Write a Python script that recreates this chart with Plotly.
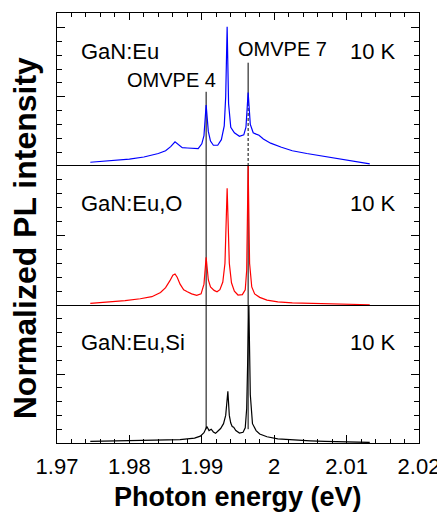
import plotly.graph_objects as go

# ---------------- data ----------------
energy_eu = [1.9746, 1.9770, 1.9800, 1.9820, 1.9840, 1.9850, 1.9857, 1.9863, 1.9868, 1.9873,
             1.9880, 1.9888, 1.9895, 1.9900, 1.9903, 1.9906, 1.9909, 1.9912, 1.9916, 1.9922,
             1.9927, 1.9931, 1.9933, 1.9935, 1.9937, 1.9940, 1.9945, 1.9952, 1.9958, 1.9961,
             1.9964, 1.9967, 1.9971, 1.9975, 1.9979, 1.9985, 1.9995, 2.0010, 2.0025, 2.0045,
             2.0070, 2.0095, 2.0115, 2.0132]
pl_eu = [0.027, 0.035, 0.050, 0.065, 0.090, 0.110, 0.140, 0.175, 0.150, 0.132,
         0.130, 0.125, 0.125, 0.160, 0.220, 0.440, 0.250, 0.180, 0.150, 0.150,
         0.190, 0.290, 0.500, 1.006, 0.450, 0.280, 0.240, 0.215, 0.225, 0.280,
         0.530, 0.300, 0.240, 0.230, 0.222, 0.195, 0.165, 0.135, 0.110, 0.090,
         0.067, 0.045, 0.030, 0.015]

energy_euo = [1.9746, 1.9770, 1.9794, 1.9815, 1.9831, 1.9843, 1.9850, 1.9856, 1.9860, 1.9863,
              1.9866, 1.9870, 1.9875, 1.9880, 1.9886, 1.9893, 1.9899, 1.9903, 1.9906, 1.9909,
              1.9912, 1.9917, 1.9921, 1.9925, 1.9929, 1.9932, 1.9935, 1.9938, 1.9941, 1.9945,
              1.9950, 1.9956, 1.9960, 1.9962, 1.9964, 1.9966, 1.9969, 1.9973, 1.9980, 1.9990,
              2.0005, 2.0025, 2.0050, 2.0055, 2.0060, 2.0080, 2.0088, 2.0095, 2.0115, 2.0132]
pl_euo = [0.012, 0.020, 0.031, 0.045, 0.060, 0.090, 0.125, 0.175, 0.215, 0.223,
          0.200, 0.150, 0.110, 0.095, 0.080, 0.070, 0.080, 0.150, 0.343, 0.180,
          0.130, 0.105, 0.095, 0.110, 0.165, 0.300, 0.840, 0.300, 0.160, 0.100,
          0.072, 0.075, 0.110, 0.250, 1.000, 0.300, 0.130, 0.080, 0.055, 0.035,
          0.022, 0.015, 0.012, 0.016, 0.011, 0.009, 0.012, 0.007, 0.004, 0.002]

energy_eusi = [1.9746, 1.9800, 1.9840, 1.9870, 1.9890, 1.9898, 1.9903, 1.9907, 1.9910, 1.9913,
               1.9916, 1.9919, 1.9922, 1.9926, 1.9930, 1.9933, 1.9936, 1.9938, 1.9940, 1.9942,
               1.9944, 1.9947, 1.9952, 1.9957, 1.9960, 1.9962, 1.9965, 1.9967, 1.9970, 1.9975,
               1.9980, 1.9990, 2.0005, 2.0025, 2.0050, 2.0070, 2.0090, 2.0110, 2.0132]
pl_eusi = [0.012, 0.016, 0.020, 0.025, 0.035, 0.050, 0.075, 0.120, 0.090, 0.100,
           0.080, 0.070, 0.085, 0.105, 0.140, 0.200, 0.374, 0.200, 0.145, 0.120,
           0.115, 0.090, 0.072, 0.078, 0.110, 0.250, 1.000, 0.350, 0.140, 0.090,
           0.065, 0.045, 0.030, 0.022, 0.016, 0.012, 0.008, 0.005, 0.004]

sample_names = ["GaN:Eu", "GaN:Eu,O", "GaN:Eu,Si"]
temperature_label = "10 K"
site_labels = ["OMVPE 4", "OMVPE 7"]
site_energies = [1.9906, 1.9964]

x_tick_vals = [1.97, 1.98, 1.99, 2.00, 2.01, 2.02]
x_tick_text = ["1.97", "1.98", "1.99", "2", "2.01", "2.02"]

# ---------------- layout helpers ----------------
FONT = "Liberation Sans, Arial, sans-serif"
INK = "#000000"
dom_bot = [0.0, 0.3209]
dom_mid = [0.3209, 0.6442]
dom_top = [0.6442, 1.0]
rng_bot = [0, 1.0]
rng_mid = [0, 1.0]
rng_top = [0, 1.105]


def to_paper(v, dom, rng):
    return dom[0] + (v - rng[0]) / (rng[1] - rng[0]) * (dom[1] - dom[0])


fig = go.Figure()
fig.add_trace(go.Scatter(x=energy_eusi, y=pl_eusi, mode="lines", xaxis="x", yaxis="y",
                         line=dict(color="#000000", width=1.2), showlegend=False))
fig.add_trace(go.Scatter(x=energy_euo, y=pl_euo, mode="lines", xaxis="x2", yaxis="y2",
                         line=dict(color="#ff0000", width=1.2), showlegend=False))
fig.add_trace(go.Scatter(x=energy_eu, y=pl_eu, mode="lines", xaxis="x3", yaxis="y3",
                         line=dict(color="#0000ff", width=1.2), showlegend=False))

yaxis_common = dict(showticklabels=False, ticks="inside", ticklen=8, tickwidth=1, tickcolor=INK,
                    tick0=0, dtick=0.5,
                    minor=dict(ticks="inside", ticklen=5, tickwidth=1, tickcolor=INK, tick0=0, dtick=0.1,
                               showgrid=False),
                    showline=True, linecolor=INK, linewidth=1, mirror="ticks",
                    showgrid=False, zeroline=False, fixedrange=True)

xr = [1.97, 2.02]
fig.update_layout(
    width=437, height=504,
    margin=dict(l=49, r=23, t=5, b=69),
    paper_bgcolor="white", plot_bgcolor="white",
    font=dict(family=FONT, color=INK, size=22),
    xaxis=dict(domain=[0, 1], anchor="y", range=xr, tickmode="array", tickvals=x_tick_vals,
               ticktext=x_tick_text, ticks="inside", ticklen=8, tickwidth=1, tickcolor=INK,
               ticklabelstandoff=4,
               minor=dict(ticks="inside", ticklen=4, tickwidth=1, tickcolor=INK, tick0=1.97,
                          dtick=0.002, showgrid=False),
               showline=True, linecolor=INK, linewidth=1, mirror=False, showgrid=False,
               zeroline=False, tickfont=dict(size=22, family=FONT, color=INK)),
    xaxis2=dict(domain=[0, 1], anchor="y2", range=xr, matches="x", showticklabels=False, ticks="",
                showline=True, linecolor=INK, linewidth=1, mirror=True, showgrid=False, zeroline=False),
    xaxis3=dict(domain=[0, 1], anchor="y3", range=xr, matches="x", side="top", showticklabels=False,
                tickmode="array", tickvals=x_tick_vals, ticks="inside", ticklen=7, tickwidth=1,
                tickcolor=INK,
                minor=dict(ticks="inside", ticklen=4, tickwidth=1, tickcolor=INK, tick0=1.97,
                           dtick=0.002, showgrid=False),
                showline=True, linecolor=INK, linewidth=1, mirror=False, showgrid=False, zeroline=False),
    yaxis=dict(domain=dom_bot, range=rng_bot, anchor="x", **yaxis_common),
    yaxis2=dict(domain=dom_mid, range=rng_mid, anchor="x2", **yaxis_common),
    yaxis3=dict(domain=dom_top, range=rng_top, anchor="x3", **yaxis_common),
)

# vertical marker lines for the two Eu sites
line_style = dict(color=INK, width=1)
e4, e7 = site_energies
fig.add_shape(type="line", xref="x", yref="paper", x0=e4, x1=e4,
              y0=to_paper(0.10, dom_bot, rng_bot), y1=to_paper(0.536, dom_top, rng_top),
              line=line_style, layer="below")
# OMVPE 7: solid above blue peak, dashed below it, solid through lower panels
fig.add_shape(type="line", xref="x", yref="paper", x0=e7, x1=e7,
              y0=to_paper(0.45, dom_top, rng_top), y1=to_paper(0.746, dom_top, rng_top),
              line=line_style, layer="below")
fig.add_shape(type="line", xref="x", yref="paper", x0=e7, x1=e7,
              y0=to_paper(0.0, dom_top, rng_top), y1=to_paper(0.45, dom_top, rng_top),
              line=dict(color=INK, width=1, dash="3px,2px"), layer="below")
fig.add_shape(type="line", xref="x", yref="paper", x0=e7, x1=e7,
              y0=to_paper(0.10, dom_bot, rng_bot), y1=to_paper(1.0, dom_mid, rng_mid),
              line=line_style, layer="below")

# panel texts
txt_font = dict(family=FONT, size=22, color=INK)
panels = [("x3", "y3", 0.825), ("x2", "y2", 0.732), ("x", "y", 0.725)]
for name, (xa, ya, yv) in zip(sample_names, panels):
    fig.add_annotation(x=1.9730, y=yv, xref=xa, yref=ya, text=name, showarrow=False,
                       xanchor="left", yanchor="middle", font=txt_font)
    fig.add_annotation(x=2.0171, y=yv, xref=xa, yref=ya, text=temperature_label, showarrow=False,
                       xanchor="right", yanchor="middle", font=txt_font)

fig.add_annotation(x=1.9858, y=0.621, xref="x3", yref="y3", text=site_labels[0], showarrow=False,
                   xanchor="center", yanchor="middle", font=dict(family=FONT, size=20, color=INK))
fig.add_annotation(x=2.0011, y=0.843, xref="x3", yref="y3", text=site_labels[1], showarrow=False,
                   xanchor="center", yanchor="middle", font=dict(family=FONT, size=20, color=INK))

# axis titles
fig.add_annotation(x=0.5, y=-54 / 430, xref="paper", yref="paper", text="<b>Photon energy (eV)</b>",
                   showarrow=False, xanchor="center", yanchor="middle",
                   font=dict(family=FONT, size=27, color=INK))
fig.add_annotation(x=-32 / 365, y=(443 - 238) / 430, xref="paper", yref="paper",
                   text="<b>Normalized PL intensity</b>",
                   showarrow=False, textangle=-90, xanchor="center", yanchor="middle",
                   font=dict(family=FONT, size=32, color=INK))

fig.write_html("out.html")
